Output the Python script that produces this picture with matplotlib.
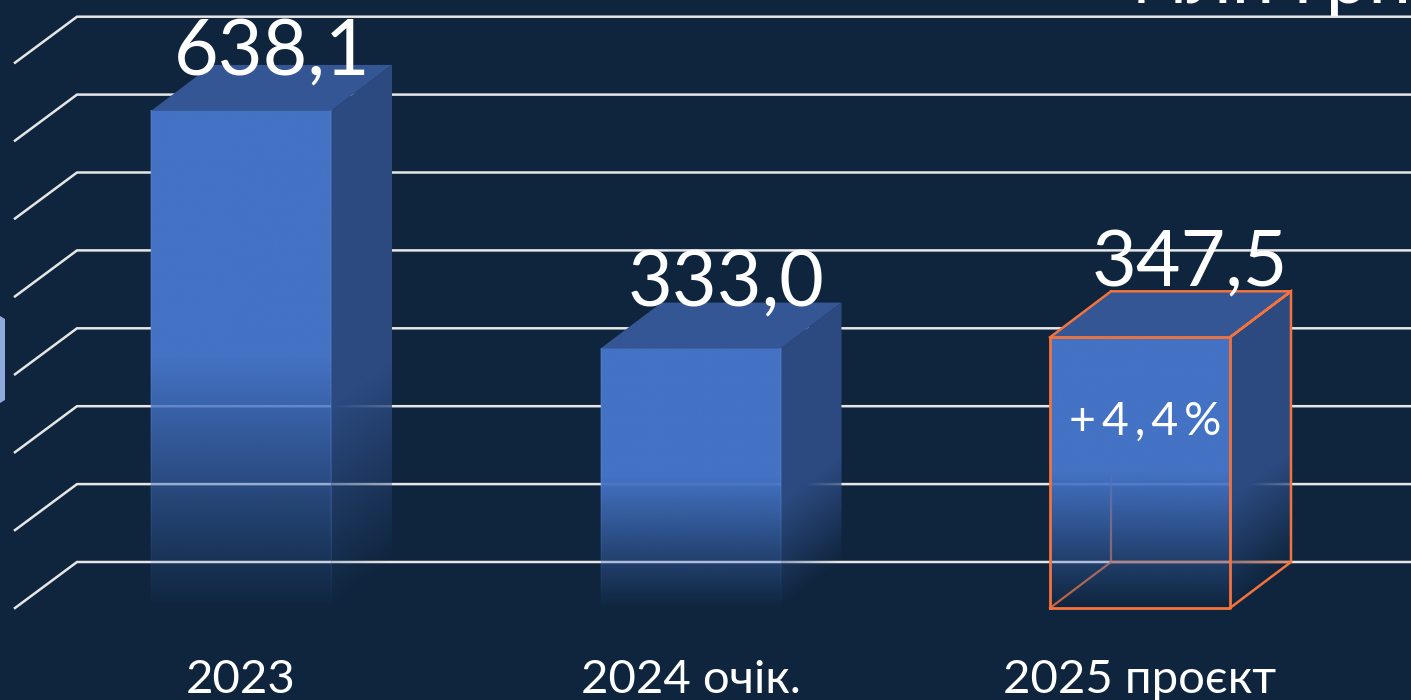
import numpy as np
import matplotlib
matplotlib.use('Agg')
import matplotlib.pyplot as plt
from matplotlib.patches import Polygon

categories = ['2023', '2024 очік.', '2025 проєкт']
values = [638.1, 333.0, 347.5]
value_labels = ['638,1', '333,0', '347,5']
grid_values = [0, 100, 200, 300, 400, 500, 600, 700]

BG = '#0F253E'
FRONT = '#4472C4'
SIDE = '#2C4A80'
TOP = '#355695'
GRID = '#E6E6E6'
ORANGE = '#F4733D'

# pixel scale of the reference, everything below is in data units
PX_X = 449.5
PX_Y = 0.779
W = 180 / PX_X
DX = 61 / PX_X
DY = 46 / PX_Y

# nudges of the value labels from the back top corner, in pixels
label_dx = [31, 36, 50]
label_dy = [-11, -4, 5]

plt.rcParams['font.family'] = ['Lato', 'DejaVu Sans']

fig = plt.figure(figsize=(14.11, 7), dpi=100, facecolor=BG)
ax = fig.add_axes([0, 0, 1, 1])
xlim = (-241 / PX_X, (1411 - 241) / PX_X)
ylim = (-92 / PX_Y, 608 / PX_Y)
ax.set_facecolor(BG)
ax.axis('off')


def rgba(color, alpha):
    im = np.ones(alpha.shape + (4,))
    im[..., :3] = matplotlib.colors.to_rgb(color)
    im[..., 3] = alpha
    return im


# gridlines: slanted part on the left wall, then flat along the back
x_wall = (15 - 241) / PX_X
x_back = (77 - 241) / PX_X
for g in grid_values:
    ax.plot([x_wall, x_back, xlim[1]], [g, g + DY, g + DY],
            color=GRID, lw=1.8, zorder=1, solid_joinstyle='miter')

# shape cut by the left edge
ax.add_patch(Polygon([[xlim[0], (608 - 316) / PX_Y],
                      [(5 - 241) / PX_X, (608 - 319) / PX_Y],
                      [(5 - 241) / PX_X, (608 - 400) / PX_Y],
                      [xlim[0], (608 - 403) / PX_Y]],
                     fc='#8FAADC', ec='none', zorder=2))

for i, v in enumerate(values):
    x0 = i - W / 2
    x1 = x0 + W

    # back edges of the outlined bar show through the faded part
    if i == 2:
        ax.plot([x0 + DX, x0 + DX], [DY, v + DY], color=ORANGE, lw=1.6, zorder=2, alpha=0.75)
        ax.plot([x0 + DX, x1 + DX], [DY, DY], color=ORANGE, lw=1.6, zorder=2, alpha=0.75)
        ax.plot([x0, x0 + DX], [0, DY], color=ORANGE, lw=1.6, zorder=2, alpha=0.8)

    # front face, solid over the upper half and fading out below
    t = np.linspace(1, 0, 400)[:, None]
    al = np.clip(t / 0.5, 0, 1)
    ax.imshow(rgba(FRONT, al), extent=[x0, x1, 0, v], aspect='auto', zorder=3,
              interpolation='bilinear')

    # side face, same fade but sheared with the face
    xs = np.linspace(0, 1, 120)
    ys = np.linspace(v + DY, 0, 500)
    xx, yy = np.meshgrid(xs, ys)
    tt = (yy - DY * xx) / v
    im = ax.imshow(rgba(SIDE, np.clip(tt / 0.4, 0, 1)), extent=[x1, x1 + DX, 0, v + DY],
                   aspect='auto', zorder=3, interpolation='bilinear')
    side = Polygon([[x1, 0], [x1 + DX, DY], [x1 + DX, v + DY], [x1, v]],
                   transform=ax.transData, fc='none', ec='none')
    ax.add_patch(side)
    im.set_clip_path(side)

    # top face
    ax.add_patch(Polygon([[x0, v], [x1, v], [x1 + DX, v + DY], [x0 + DX, v + DY]],
                         fc=TOP, ec='none', zorder=3))

    # thin lighter edges of the front face in the faded part
    if i < 2:
        edge = rgba('#5F8AD8', np.clip(t / 0.5, 0, 1) * 0.3)
        for xe in (x0, x1):
            ax.imshow(edge, extent=[xe - 0.7 / PX_X, xe + 0.7 / PX_X, 0, v], aspect='auto',
                      zorder=3.5, interpolation='bilinear')

    # orange outline on top of the faces
    if i == 2:
        ax.plot([x0, x1, x1, x0, x0], [0, 0, v, v, 0], color=ORANGE, lw=2, zorder=4)
        ax.plot([x0, x0 + DX, x1 + DX, x1, x1 + DX, x1 + DX, x1],
                [v, v + DY, v + DY, v, v + DY, DY, 0], color=ORANGE, lw=1.8, zorder=4,
                solid_joinstyle='miter')

    ax.text(i + label_dx[i] / PX_X, v + DY + label_dy[i] / PX_Y, value_labels[i], color='white',
            fontsize=55.5, ha='center', va='baseline', zorder=5)
    ax.text(i, -85 / PX_Y, categories[i], color='white', fontsize=34,
            ha='center', va='baseline', zorder=5)

ax.text(2 + 5 / PX_X, (608 - 435) / PX_Y, '+\u20094\u2009,\u20094\u2009%', color='white',
        fontsize=33.5, ha='center', va='baseline', zorder=5)
ax.text(xlim[1], (608 - 3) / PX_Y, 'млн грн', color='white', fontsize=55,
        ha='right', va='baseline', zorder=5)

ax.set_xlim(xlim)
ax.set_ylim(ylim)
fig.savefig('out.png', dpi=100, facecolor=BG)
